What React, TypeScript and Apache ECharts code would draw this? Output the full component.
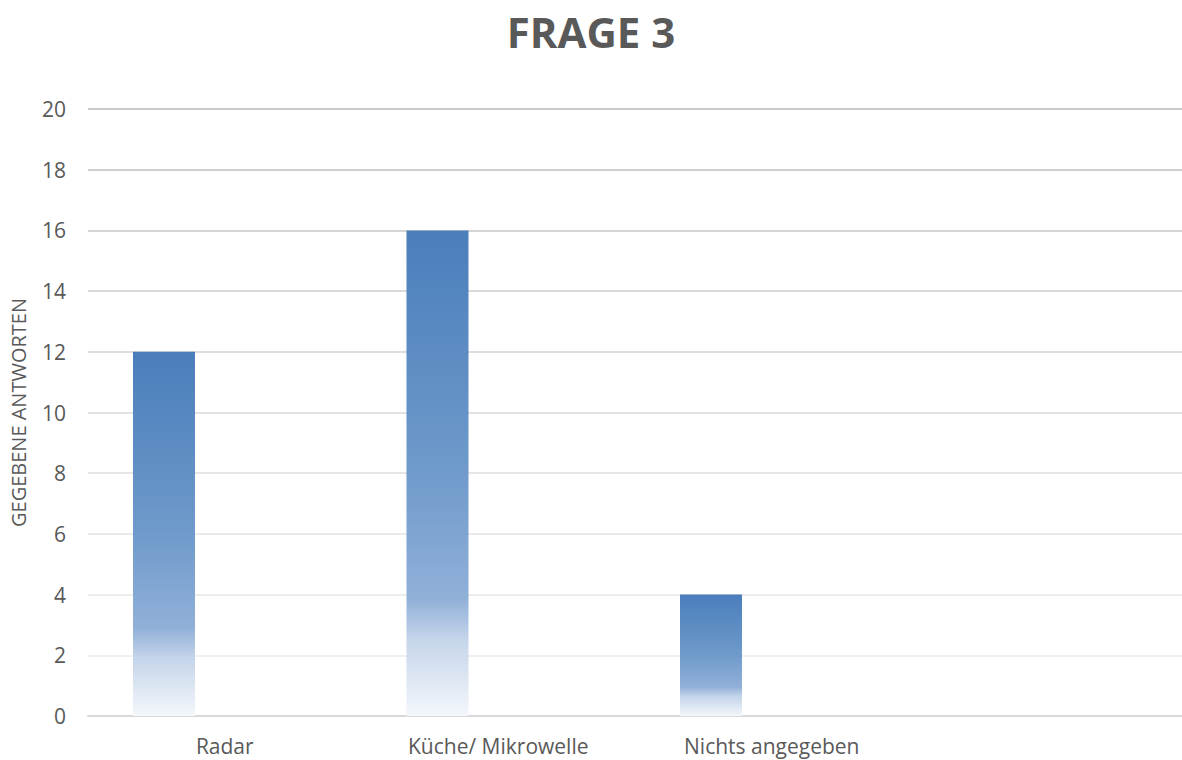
import React, { useEffect, useRef } from "react";
import * as echarts from "echarts";

const categories = ["Radar", "Küche/ Mikrowelle", "Nichts angegeben", ""];
const answers = [12, 16, 4, null];
const yTicks = { min: 0, max: 20, interval: 2 };

// Split lines from 0 up to 20 get slightly darker towards the top.
const gridColors = [
  "#d9d9d9", "#f0f0f0", "#ededed", "#eaeaea", "#e6e6e6", "#e2e2e2",
  "#dedede", "#dadada", "#d5d5d5", "#d0d0d0", "#cacaca",
];

const barGradient = new echarts.graphic.LinearGradient(0, 0, 0, 1, [
  { offset: 0, color: "#4a7ebb" },
  { offset: 0.5, color: "#6f9acb" },
  { offset: 0.76, color: "#91b0d8" },
  { offset: 0.84, color: "#c4d4ea" },
  { offset: 1, color: "#f4f7fb" },
]);

export default function App() {
  const ref = useRef<HTMLDivElement>(null);

  useEffect(() => {
    document.documentElement.style.overflow = "hidden";
    document.body.style.margin = "0";
    if (!ref.current) return;
    const chart = echarts.init(ref.current, undefined, { renderer: "svg" });
    const font = "'Open Sans', 'Liberation Sans', sans-serif";
    chart.setOption({
      animation: false,
      backgroundColor: "#ffffff",
      title: {
        text: "FRAGE 3",
        left: "center",
        top: 5,
        textStyle: {
          fontFamily: font,
          fontSize: 42,
          fontWeight: "bold",
          color: "#595959",
        },
      },
      grid: { left: 88, right: 0, top: 109, bottom: 44 },
      xAxis: {
        type: "category",
        data: categories,
        axisLine: { show: true, lineStyle: { color: "#d9d9d9", width: 2 } },
        axisTick: { show: false },
        axisLabel: {
          color: "#595959",
          fontFamily: font,
          fontSize: 21,
          margin: 19,
        },
      },
      yAxis: {
        type: "value",
        min: yTicks.min,
        max: yTicks.max,
        interval: yTicks.interval,
        name: "GEGEBENE ANTWORTEN",
        nameLocation: "middle",
        nameGap: 60,
        nameRotate: 90,
        nameTextStyle: { color: "#595959", fontFamily: font, fontSize: 20 },
        axisLine: { show: false },
        axisTick: { show: false },
        axisLabel: {
          color: "#595959",
          fontFamily: font,
          fontSize: 21,
          margin: 22,
        },
        splitLine: { lineStyle: { color: gridColors, width: 2 } },
      },
      series: [
        {
          type: "bar",
          name: "Antworten",
          data: answers,
          barWidth: 62,
          barGap: "96%",
          itemStyle: { color: barGradient },
        },
        {
          type: "bar",
          name: "leer",
          data: categories.map(() => null),
          barWidth: 62,
        },
      ],
    });
    return () => chart.dispose();
  }, []);

  return <div ref={ref} style={{ width: 1182, height: 760 }} />;
}
